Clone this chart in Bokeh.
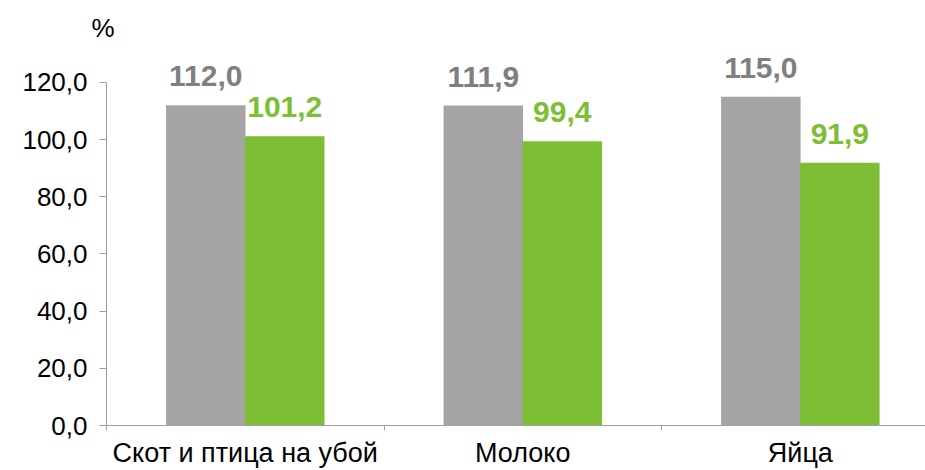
from bokeh.plotting import figure
from bokeh.models import Range1d, FixedTicker, ColumnDataSource
from bokeh.embed import file_html
from bokeh.resources import INLINE
from bokeh.core.properties import value

categories = ["Скот и птица на убой", "Молоко", "Яйца"]
series_gray = [112.0, 111.9, 115.0]
series_green = [101.2, 99.4, 91.9]
y_ticks = [0, 20, 40, 60, 80, 100, 120]
y_tick_labels = ["0,0", "20,0", "40,0", "60,0", "80,0", "100,0", "120,0"]
unit_label = "%"

GRAY = "#a5a5a5"
GREEN = "#7dbe34"
GRAY_TXT = "#7f7f7f"
AXIS = "#a0a0a0"
FONT = "Liberation Sans"

bw = 0.2865
off = 0.1423
centers = [i + 0.5 for i in range(len(categories))]

fmt = lambda v: f"{v:.1f}".replace(".", ",")
src_g = ColumnDataSource(dict(x=[c - off for c in centers], top=series_gray,
                              lab=[fmt(v) for v in series_gray]))
src_n = ColumnDataSource(dict(x=[c + off for c in centers], top=series_green,
                              lab=[fmt(v) for v in series_green]))

p = figure(width=925, height=470, output_backend="svg", toolbar_location=None,
           x_range=Range1d(0, 2.951), y_range=Range1d(0, 132.9),
           min_border_left=106, min_border_right=0, min_border_top=45, min_border_bottom=44)
p.outline_line_color = None
p.xgrid.visible = False
p.ygrid.visible = False
p.background_fill_color = "white"

p.title.text = unit_label
p.title.align = "left"
p.title.offset = -15
p.title.standoff = 6
p.title.text_font = FONT
p.title.text_font_size = "26px"
p.title.text_font_style = "normal"
p.title.text_color = "#000000"

p.vbar(x="x", top="top", width=bw, source=src_g, fill_color=GRAY, line_color=None)
p.vbar(x="x", top="top", width=bw, source=src_n, fill_color=GREEN, line_color=None)

p.text(x="x", y="top", text="lab", source=src_g, text_align="center", text_baseline="alphabetic",
       y_offset=-29, text_font=value(FONT), text_font_style="bold", text_font_size="30px",
       text_color=GRAY_TXT)
p.text(x="x", y="top", text="lab", source=src_n, text_align="center", text_baseline="alphabetic",
       y_offset=-29, text_font=value(FONT), text_font_style="bold", text_font_size="30px",
       text_color=GREEN)

# y axis
ya = p.yaxis[0]
ya.ticker = FixedTicker(ticks=y_ticks)
ya.major_label_overrides = {t: l for t, l in zip(y_ticks, y_tick_labels)}
ya.bounds = (0, 120)
ya.axis_line_color = AXIS
ya.major_tick_line_color = AXIS
ya.major_tick_out = 7
ya.major_tick_in = 0
ya.minor_tick_line_color = None
ya.major_label_standoff = 12
ya.major_label_text_font = FONT
ya.major_label_text_font_size = "26px"
ya.major_label_text_color = "#000000"

# x axis
xa = p.xaxis[0]
xa.ticker = FixedTicker(ticks=centers, minor_ticks=[0, 1, 2, 3])
xa.major_label_overrides = {c: n for c, n in zip(centers, categories)}
xa.axis_line_color = AXIS
xa.major_tick_line_color = None
xa.major_tick_out = 0
xa.major_tick_in = 0
xa.minor_tick_line_color = AXIS
xa.minor_tick_out = 5
xa.minor_tick_in = 0
xa.major_label_standoff = 7
xa.major_label_text_font = FONT
xa.major_label_text_font_size = "27px"
xa.major_label_text_color = "#000000"

open("out.html", "w").write(file_html(p, INLINE))
